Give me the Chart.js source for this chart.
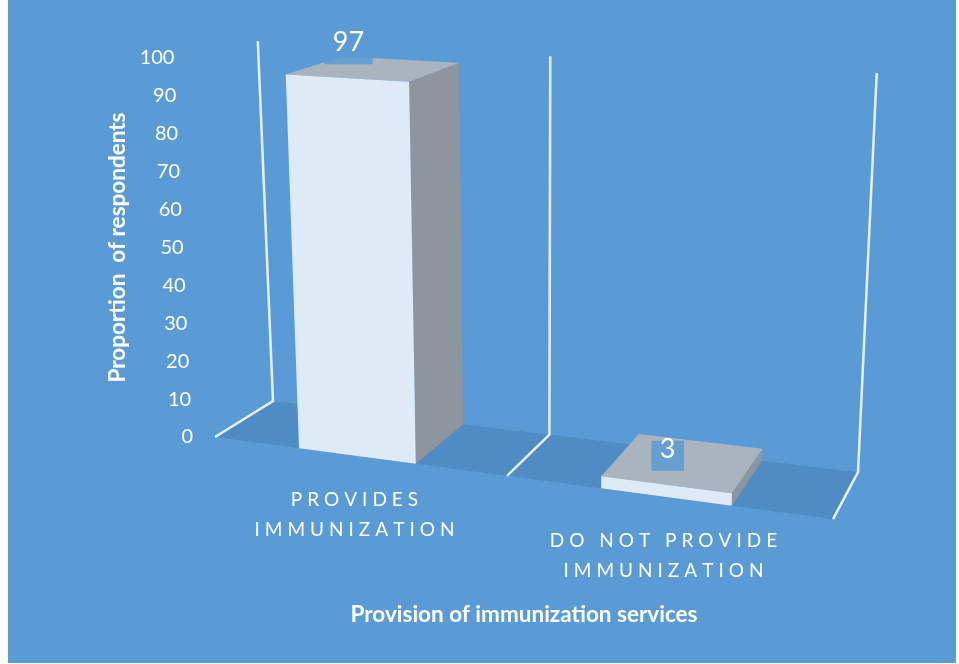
<!DOCTYPE html>
<html lang="en">
<head>
  <meta charset="UTF-8" />
  <title>Provision of immunization services</title>
  <script src="https://cdn.jsdelivr.net/npm/chart.js"></script>
  <style>
    body { margin: 0; background: #ffffff; }
    canvas { display: block; }
  </style>
</head>
<body>

  <canvas id="graficoImunizacao" width="959" height="664"></canvas>

  <script>
    // dados
    var categorias = [['PROVIDES', 'IMMUNIZATION'], ['DO NOT PROVIDE', 'IMMUNIZATION']];
    var valores = [97, 3];
    var ticksY = [0, 10, 20, 30, 40, 50, 60, 70, 80, 90, 100];
    var tituloY = 'Proportion  of respondents';
    var tituloX = 'Provision of immunization services';

    var fonte = 'Lato, "Open Sans", sans-serif';

    // projeta um ponto (x do eixo, valor, profundidade 0=frente 1=fundo) na perspectiva 3D
    function projetar(chart, X, v, z) {
      var area = chart.chartArea;
      var yScale = chart.scales.y;
      var w = area.width / categorias.length;
      var u = (X - area.left) / w;
      var t = w * (0.89 * u + 0.055 * u * u);
      var f = v / yScale.max;
      var sx = area.left + t + z * (58 - t * 0.0534);
      var sy = yScale.getPixelForValue(v) + t * (0.133 - 0.073 * f) + z * (-36 - t * 0.0178) * (1 - 0.53 * f);
      sx += (sx - (area.left + 320)) * 0.058 * f;
      return { x: sx, y: sy };
    }

    function poligono(ctx, pontos, cor) {
      ctx.beginPath();
      ctx.moveTo(pontos[0].x, pontos[0].y);
      for (var i = 1; i < pontos.length; i++) ctx.lineTo(pontos[i].x, pontos[i].y);
      ctx.closePath();
      ctx.fillStyle = cor;
      ctx.fill();
    }

    function textoEspacado(ctx, texto, cx, y, esp) {
      var larg = 0;
      for (var i = 0; i < texto.length; i++) larg += ctx.measureText(texto[i]).width;
      larg += esp * (texto.length - 1);
      var x = cx - larg / 2;
      ctx.textAlign = 'left';
      for (var k = 0; k < texto.length; k++) {
        ctx.fillText(texto[k], x, y);
        x += ctx.measureText(texto[k]).width + esp;
      }
    }

    var plugin3D = {
      id: 'plugin3D',
      beforeDraw: function (chart) {
        var ctx = chart.ctx;
        ctx.save();
        ctx.fillStyle = '#ffffff';
        ctx.fillRect(0, 0, chart.width, chart.height);
        ctx.fillStyle = '#5B9BD5';
        ctx.fillRect(8, 0, chart.width - 11, chart.height - 1);
        ctx.restore();
      },
      beforeDatasetsDraw: function (chart) {
        var ctx = chart.ctx;
        var area = chart.chartArea;
        var yMax = chart.scales.y.max;
        ctx.save();

        // piso
        poligono(ctx, [
          projetar(chart, area.left, 0, 0),
          projetar(chart, area.right, 0, 0),
          projetar(chart, area.right, 0, 1),
          projetar(chart, area.left, 0, 1)
        ], '#508CC4');

        // linhas das divisoes das categorias
        var w = area.width / categorias.length;
        ctx.strokeStyle = 'rgba(255,255,255,0.85)';
        ctx.lineWidth = 2.5;
        for (var i = 0; i <= categorias.length; i++) {
          var X = area.left + i * w;
          var a = projetar(chart, X, 0, 0);
          var b = projetar(chart, X, 0, 1);
          var c = projetar(chart, X, yMax, 1);
          ctx.beginPath();
          ctx.moveTo(a.x, a.y);
          ctx.lineTo(b.x, b.y);
          ctx.lineTo(c.x, c.y);
          ctx.stroke();
        }

        // ticks do eixo Y
        ctx.fillStyle = '#ffffff';
        ctx.font = '20px ' + fonte;
        ctx.textAlign = 'right';
        ctx.textBaseline = 'middle';
        for (var j = 0; j < ticksY.length; j++) {
          var p = projetar(chart, area.left, ticksY[j], 0);
          ctx.fillText(String(ticksY[j]), p.x - 22, p.y);
        }

        // titulo do eixo Y
        ctx.save();
        ctx.translate(area.left - 97, (area.top + area.bottom) / 2);
        ctx.rotate(-Math.PI / 2);
        ctx.font = 'bold 22.5px ' + fonte;
        ctx.textAlign = 'center';
        ctx.fillText(tituloY, 0, 0);
        ctx.restore();

        // titulo do eixo X
        ctx.font = 'bold 22.5px ' + fonte;
        ctx.textAlign = 'center';
        ctx.fillText(tituloX, (area.left + area.right) / 2, 615);

        ctx.restore();
      },
      afterDatasetsDraw: function (chart) {
        var ctx = chart.ctx;
        var meta = chart.getDatasetMeta(0);
        ctx.save();
        meta.data.forEach(function (barra, i) {
          var v = valores[i];
          var x0 = barra.x - barra.width / 2;
          var x1 = barra.x + barra.width / 2;

          var f00 = projetar(chart, x0, 0, 0), f10 = projetar(chart, x1, 0, 0);
          var f0v = projetar(chart, x0, v, 0), f1v = projetar(chart, x1, v, 0);
          var b10 = projetar(chart, x1, 0, 1), b1v = projetar(chart, x1, v, 1);
          var b0v = projetar(chart, x0, v, 1);

          poligono(ctx, [f10, b10, b1v, f1v], '#8D969E');   // lateral
          poligono(ctx, [f0v, f1v, b1v, b0v], '#A9B4BE');   // topo
          poligono(ctx, [f00, f10, f1v, f0v], '#DEEBF7');   // frente

          // rotulo do valor
          var mx = (f0v.x + f1v.x) / 2 + 1;
          var base = (f0v.y + f1v.y) / 2 - 27;
          ctx.font = '27px ' + fonte;
          var txt = String(v);
          var lw = ctx.measureText(txt).width + 17;
          ctx.fillStyle = 'rgba(91,155,213,0.85)';
          ctx.fillRect(mx - lw / 2, base - 17, lw, 30);
          ctx.fillStyle = '#ffffff';
          ctx.textAlign = 'center';
          ctx.textBaseline = 'alphabetic';
          ctx.fillText(txt, mx, base);

          // rotulo da categoria
          var cx = (f00.x + f10.x) / 2 - 3;
          var cy = (f00.y + f10.y) / 2 + 44;
          ctx.font = '19px ' + fonte;
          ctx.textBaseline = 'middle';
          var linhas = categorias[i];
          for (var k = 0; k < linhas.length; k++) {
            textoEspacado(ctx, linhas[k], cx, cy + k * 30, 5);
          }
        });
        ctx.restore();
      }
    };

    var dados = {
      labels: categorias,
      datasets: [{
        label: 'Proportion of respondents',
        data: valores,
        backgroundColor: 'rgba(0,0,0,0)',
        borderWidth: 0,
        categoryPercentage: 1,
        barPercentage: 0.4
      }]
    };

    var config = {
      type: 'bar',
      data: dados,
      options: {
        responsive: false,
        animation: false,
        devicePixelRatio: 1,
        layout: { padding: { left: 215, right: 126, top: 58, bottom: 227 } },
        plugins: {
          legend: { display: false },
          tooltip: { enabled: false }
        },
        scales: {
          x: { display: false },
          y: { display: false, min: 0, max: 100 }
        }
      },
      plugins: [plugin3D]
    };

    var grafico = new Chart(document.getElementById('graficoImunizacao'), config);
  </script>
</body>
</html>
